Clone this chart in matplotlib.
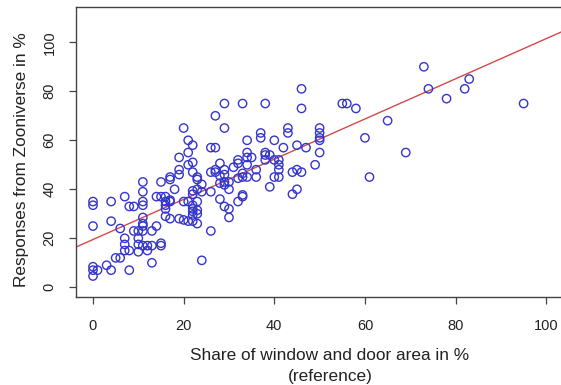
import matplotlib
matplotlib.use("Agg")
import matplotlib.pyplot as plt

# Data: share of window/door area (reference) vs Zooniverse responses
x_ref = [0, 0, 0, 0, 0, 0,
         1, 3, 4, 4, 4, 5, 6, 6,
         7, 7, 7, 7, 8, 8, 8, 9, 9,
         10, 10, 10, 10,
         11, 11, 11, 11, 11, 11, 11, 11, 11,
         12, 12, 13, 13, 13, 14, 14,
         15, 15, 15, 15,
         16, 16, 16, 16, 16,
         17, 17, 17, 17, 17, 18,
         19, 19, 19, 19,
         20, 20, 20,
         21, 21, 21, 21, 21,
         22, 22, 22, 22, 22, 22, 22, 22, 22, 22,
         23, 23, 23, 23, 23, 23, 23,
         24, 24, 24,
         26, 26, 26, 26,
         27, 27, 27, 27,
         28, 28, 28, 28,
         29, 29, 29, 29, 29, 29, 29,
         30, 30, 30, 30,
         31, 32, 32, 32, 32,
         33, 33, 33, 33, 33,
         34, 34, 34, 34, 34,
         35, 36, 36, 37, 37,
         38, 38, 38, 38, 39, 39,
         40, 40, 40, 41, 41, 41, 41,
         42, 43, 43, 44, 44, 45, 45, 45,
         46, 46, 46, 47, 49,
         50, 50, 50, 50, 50,
         55, 56, 58, 60, 61, 65, 69, 73, 74, 78, 82, 83, 95]
y_resp = [35, 33.5, 25, 8.4, 7, 4.6,
          7, 9, 35, 27, 7, 12, 12, 24,
          37, 20, 17.5, 15, 33, 15, 7, 33, 23,
          23, 20, 17.5, 14.5,
          43, 39, 35, 33.5, 28.5, 26, 25, 23, 17,
          17, 15, 23, 17, 10, 37, 25,
          43, 37, 18, 17,
          37, 35, 33.5, 32, 29,
          45, 44, 35.6, 35, 28, 40,
          53, 48, 46, 28,
          65, 27.5, 35,
          60, 55, 50, 35, 27,
          58, 51, 47, 39.4, 38, 33.5, 32, 31, 29.5, 27,
          45, 44, 40, 35, 31.5, 30, 26,
          42, 39, 11,
          57, 47, 39, 23,
          70, 57, 48, 47,
          50.6, 45.5, 42.5, 36,
          75, 65, 48, 46, 43, 41.8, 33,
          43, 40, 32, 28.5,
          49, 52, 50.6, 44.5, 35,
          75, 46.5, 37.7, 37, 45,
          60, 55, 53, 50, 45,
          53, 48, 45, 63, 61,
          75, 55, 54, 52, 54, 41,
          60, 45, 52, 52, 50, 48, 45,
          57, 65, 63, 47, 38, 58, 48, 40,
          81, 73, 47, 57, 50,
          65, 63, 61, 60, 55,
          75, 75, 73, 61, 45, 68, 55, 90, 81, 77, 81, 85, 75]

# Regression line
fit_intercept = 19.5
fit_slope = 0.82

x_ticks = [0, 20, 40, 60, 80, 100]
y_ticks = [0, 20, 40, 60, 80, 100]

plt.rcParams['font.family'] = ['Liberation Sans', 'DejaVu Sans']

fig = plt.figure(figsize=(5.61, 3.85), dpi=100)
W, H = 561, 385
left, top, bottom, right = 76, 7, 297, 564.4
ax = fig.add_axes([left / W, (H - bottom) / H, (right - left) / W, (bottom - top) / H])

ax.scatter(x_ref, y_resp, s=36, facecolors='none', edgecolors='#3535cc',
           linewidths=1.0, zorder=3)
ax.axline((0, fit_intercept), slope=fit_slope, color='#d24a4a', lw=1.0, zorder=2)

ax.set_xlim(-3.75, 104)
ax.set_ylim(-3.96, 114.4)
ax.set_xticks(x_ticks)
ax.set_yticks(y_ticks)
ax.set_xticklabels([str(t) for t in x_ticks])
ax.set_yticklabels([str(t) for t in y_ticks], rotation=90, va='center')

for sp in ax.spines.values():
    sp.set_color('#444444')
    sp.set_linewidth(1.0)

ax.tick_params(axis='both', direction='out', length=5, width=0.9,
               color='#444444', labelsize=10.5, labelcolor='#222222')
ax.tick_params(axis='x', pad=11)
ax.tick_params(axis='y', pad=9)

fig.text(330 / W, 1 - 355.7 / H, 'Share of window and door area in %',
         ha='center', va='center', fontsize=12.4, color='#222222')
fig.text(330 / W, 1 - 376.7 / H, '(reference)',
         ha='center', va='center', fontsize=12.4, color='#222222')
fig.text(21.7 / W, 1 - 160 / H, 'Responses from Zooniverse in %',
         ha='center', va='center', rotation=90, fontsize=12.4, color='#222222')

fig.savefig('out.png', dpi=100)
